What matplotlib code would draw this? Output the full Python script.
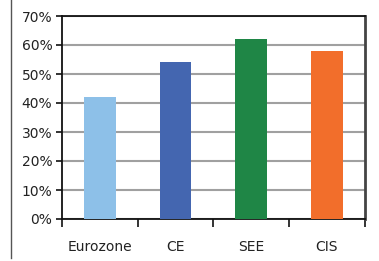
import matplotlib
matplotlib.use('Agg')
import matplotlib.pyplot as plt
from matplotlib.lines import Line2D
from matplotlib.ticker import FuncFormatter

#-------------------------------------------------------------------------#
# Data                                                                    #
#-------------------------------------------------------------------------#
regions = ['Eurozone', 'CE', 'SEE', 'CIS']
shares  = [42, 54, 62, 58]
colors  = ['#8DC0E8', '#4466B0', '#1F8646', '#F26E2B']
yticks  = [0, 10, 20, 30, 40, 50, 60, 70]

#-------------------------------------------------------------------------#
# Figure                                                                  #
#-------------------------------------------------------------------------#
W, H = 379, 261
fig = plt.figure(figsize=(W/100, H/100), dpi=100)
ax  = fig.add_axes([62/W, 1-219/H, (364.7-62)/W, (219-16)/H])

x = range(len(regions))
ax.bar(x, shares, width=0.42, color=colors, zorder=3)

ax.set_xlim(-0.5, len(regions)-0.5)
ax.set_ylim(0, 70)
ax.set_yticks(yticks)
ax.yaxis.set_major_formatter(FuncFormatter(lambda v, p: '%d%%' % v))
ax.set_xticks(list(x))
ax.set_xticklabels(regions)
ax.set_xticks([i-0.5 for i in range(len(regions)+1)], minor=True)

ax.tick_params(axis='x', which='major', length=0, pad=15, labelsize=10,
               colors='#222222')
ax.tick_params(axis='x', which='minor', length=6, width=1.2,
               direction='out', color='#111111')
ax.tick_params(axis='y', length=4, width=1.2, direction='out', pad=3,
               labelsize=10, colors='#222222', color='#111111')

ax.yaxis.grid(True, color='#a0a0a0', lw=1.5, zorder=0)
ax.set_axisbelow(True)

for s in ['left', 'bottom', 'top']:
    ax.spines[s].set_color('#111111')
    ax.spines[s].set_linewidth(1.3)
ax.spines['right'].set_color('#444444')
ax.spines['right'].set_linewidth(2)

# vertical frame line on the left of the figure
fig.add_artist(Line2D([10.5/W, 10.5/W], [3/H, 1], color='#555555', lw=1))

fig.savefig('out.png', dpi=100)
